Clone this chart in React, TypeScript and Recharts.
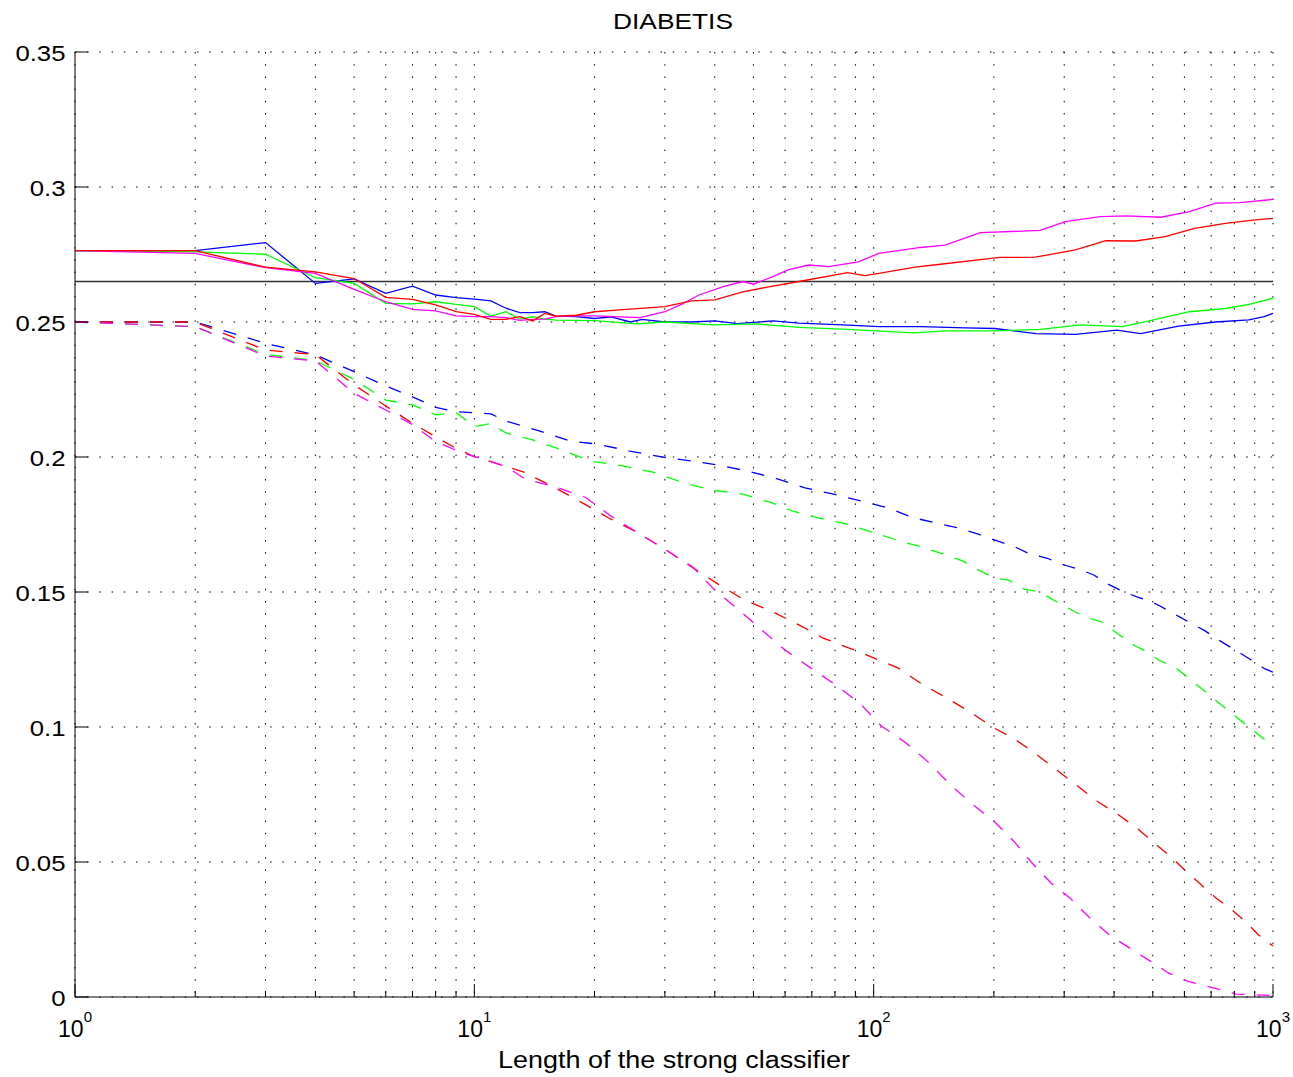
import React from 'react';
import { LineChart, Line, XAxis, YAxis, CartesianGrid, ReferenceLine } from 'recharts';

if (typeof document !== 'undefined') {
  document.body.style.margin = '0';
}

// ---- axes ----
const xTicks = [1, 2, 3, 4, 5, 6, 7, 8, 9, 10, 20, 30, 40, 50, 60, 70, 80, 90, 100, 200, 300, 400, 500, 600, 700, 800, 900, 1000];
const yTicks = [0, 0.05, 0.1, 0.15, 0.2, 0.25, 0.3, 0.35];
const xDomain = [1, 1000];
const yDomain = [0, 0.35];
const baselineLevel = 0.265;
const titleText = 'DIABETIS';
const xLabelText = 'Length of the strong classifier';

// ---- solid curves ----
const blueSolid: [number, number][] = [
  [1, 0.2764], [2, 0.2764], [3, 0.2794], [4, 0.2643], [5, 0.266], [6, 0.2606], [7, 0.2633], [8, 0.26], [9, 0.259], [10, 0.2585],
  [11, 0.2578], [12, 0.2551], [13, 0.2535], [14, 0.2535], [15, 0.2538], [16, 0.2522], [18, 0.252], [20, 0.2513], [22, 0.2519],
  [24.6, 0.25], [26.3, 0.251], [30, 0.25], [35, 0.25], [40, 0.2504], [45.6, 0.2494], [56, 0.2504], [65, 0.2496], [84, 0.2489],
  [103, 0.2483], [131, 0.2483], [170, 0.2478], [201, 0.2476], [255, 0.2457], [320, 0.2454], [406, 0.247], [466, 0.2457],
  [580, 0.2485], [718, 0.25], [870, 0.2508], [950, 0.252], [1000, 0.2532],
];
const greenSolid: [number, number][] = [
  [1, 0.2764], [2, 0.276], [3, 0.2751], [4, 0.2664], [5, 0.2643], [6, 0.2569], [7, 0.2567], [8, 0.2575], [9, 0.2565], [10, 0.2557],
  [11, 0.2522], [12, 0.2538], [13, 0.2511], [14, 0.252], [15, 0.2511], [16, 0.2507], [20, 0.2505], [25.5, 0.2493], [30, 0.25],
  [40, 0.2489], [51, 0.2493], [65, 0.248], [86, 0.2473], [126, 0.246], [151, 0.2467], [201, 0.2467], [261, 0.2473], [330, 0.2489],
  [419, 0.2483], [480, 0.2501], [617, 0.2538], [760, 0.255], [870, 0.2565], [1000, 0.2588],
];
const redSolid: [number, number][] = [
  [1, 0.2764], [2, 0.2764], [3, 0.2703], [4, 0.2686], [5, 0.2661], [6, 0.2591], [7, 0.2584], [8, 0.2563], [9, 0.2538], [10, 0.2528],
  [11, 0.251], [12, 0.251], [13, 0.252], [14, 0.2504], [15, 0.2532], [16, 0.2522], [18, 0.2525], [20, 0.2538], [24, 0.2547],
  [30, 0.2557], [35, 0.2578], [40, 0.2582], [47, 0.2612], [55, 0.2631], [65, 0.265], [86, 0.2683], [95, 0.2672], [103, 0.268],
  [127, 0.2703], [145, 0.2713], [207, 0.2739], [254, 0.274], [320, 0.2767], [381, 0.2801], [453, 0.28], [537, 0.2816],
  [636, 0.2847], [760, 0.2865], [903, 0.2878], [1000, 0.2884],
];
const magentaSolid: [number, number][] = [
  [1, 0.2764], [2, 0.2754], [3, 0.2701], [4, 0.268], [5, 0.2621], [6, 0.2575], [7, 0.2547], [8, 0.2541], [9, 0.2523], [10, 0.252],
  [11, 0.252], [12, 0.2516], [13, 0.2506], [14, 0.251], [15, 0.2511], [16, 0.252], [18, 0.2523], [20, 0.2523], [26, 0.2516],
  [30, 0.2538], [33, 0.2565], [36.5, 0.26], [42, 0.2631], [47, 0.265], [50, 0.264], [56, 0.2668], [61, 0.2693], [68.8, 0.2711],
  [77, 0.2705], [91.5, 0.2723], [103, 0.2754], [131, 0.2776], [151, 0.2785], [185, 0.2831], [261, 0.2839], [302, 0.2872],
  [369, 0.289], [428, 0.2893], [524, 0.2888], [617, 0.2909], [718, 0.294], [827, 0.2942], [1000, 0.2954],
];

// ---- dashed curves ----
const blueDashed: [number, number][] = [
  [1, 0.25], [2, 0.25], [3, 0.2421], [4, 0.2378], [5, 0.2316], [6, 0.2263], [7, 0.2223], [8, 0.2184], [9, 0.2168], [10, 0.2164],
  [11, 0.216], [12, 0.2133], [14.6, 0.2096], [17.4, 0.2059], [20.3, 0.2048], [24.5, 0.2022], [29.2, 0.2001], [35.2, 0.1985],
  [41.2, 0.1969], [49, 0.1946], [56.6, 0.1922], [67.3, 0.1886], [78.9, 0.1863], [93, 0.1837], [109, 0.1811], [125, 0.1776],
  [144.5, 0.1754], [162, 0.1738], [182, 0.1715], [204, 0.1689], [226, 0.1667], [246, 0.1641], [272, 0.1625], [300, 0.16],
  [329, 0.1583], [356, 0.1563], [385, 0.153], [424, 0.15], [458, 0.1481], [492, 0.1467], [521, 0.1448], [585, 0.1407],
  [676, 0.1356], [737, 0.1319], [827, 0.1274], [955, 0.1215], [1000, 0.1203],
];
const greenDashed: [number, number][] = [
  [1, 0.25], [2, 0.2483], [3, 0.238], [4, 0.2357], [5, 0.2287], [6, 0.2211], [7, 0.2193], [8, 0.2156], [9, 0.2165], [10, 0.2112],
  [11, 0.2124], [12, 0.2089], [14, 0.2063], [16.6, 0.2026], [19.5, 0.1985], [23.5, 0.1967], [28, 0.1944], [33, 0.1907],
  [39, 0.1878], [46.7, 0.1863], [55, 0.1833], [62.5, 0.18], [73, 0.1774], [85.5, 0.1752], [99, 0.1722], [116, 0.1689],
  [132, 0.1667], [152, 0.1637], [167, 0.1615], [183, 0.1581], [201, 0.1552], [218, 0.1544], [238, 0.1511], [260, 0.15],
  [288, 0.1463], [320, 0.1426], [344, 0.1404], [372, 0.1389], [406, 0.1348], [452, 0.13], [485, 0.1278], [517, 0.1248],
  [576, 0.1215], [630, 0.1168], [691, 0.112], [775, 0.1059], [870, 0.1], [960, 0.095], [1000, 0.0937],
];
const redDashed: [number, number][] = [
  [1, 0.25], [2, 0.25], [3, 0.2396], [4, 0.2379], [5, 0.2267], [6, 0.2189], [7, 0.2125], [8, 0.2075], [9, 0.2032], [10, 0.2001],
  [11, 0.1983], [13.3, 0.1944], [15.8, 0.1889], [18.5, 0.1833], [21.7, 0.1774], [25.5, 0.1722], [30.2, 0.1656], [35, 0.1593],
  [40.4, 0.1533], [47.5, 0.147], [56, 0.1426], [65, 0.1378], [74.5, 0.133], [92, 0.1278], [115, 0.1219], [132, 0.1159],
  [151, 0.1111], [176, 0.1052], [198, 0.1], [225, 0.0956], [253, 0.0904], [283, 0.0848], [322, 0.0785], [365, 0.0722],
  [407, 0.0678], [456, 0.0626], [505, 0.057], [555, 0.0519], [608, 0.0463], [662, 0.0415], [720, 0.0367], [790, 0.0322],
  [855, 0.0278], [920, 0.023], [1000, 0.0189],
];
const magentaDashed: [number, number][] = [
  [1, 0.25], [2, 0.2483], [3, 0.2374], [4, 0.2356], [5, 0.2236], [6, 0.2174], [7, 0.212], [8, 0.2057], [9, 0.2025], [10, 0.2001],
  [11, 0.1983], [12, 0.1965], [13.4, 0.1919], [16, 0.1889], [19, 0.185], [22, 0.1781], [25.5, 0.1722], [30.2, 0.1656],
  [35.2, 0.1593], [40, 0.1507], [46, 0.1433], [52.5, 0.1359], [60, 0.1285], [69.5, 0.1219], [80.5, 0.1155], [92.7, 0.1085],
  [104.5, 0.1004], [120.5, 0.0941], [137, 0.087], [154, 0.0793], [174, 0.0722], [200, 0.0652], [224, 0.0578], [248, 0.05],
  [278, 0.0422], [310, 0.0367], [346, 0.0296], [392, 0.0226], [438, 0.0181], [493, 0.0133], [547, 0.0089], [610, 0.0059],
  [711, 0.0033], [810, 0.0011], [940, 0.0007], [1000, 0.0005],
];

const FONT = '"Liberation Sans", Arial, Helvetica, sans-serif';
const toData = (pts: [number, number][]) => pts.map(([n, v]) => ({ n, v }));

const isMajor = (v: number) => Math.abs(Math.log10(v) - Math.round(Math.log10(v))) < 1e-6;

const XTick = (props: any) => {
  const { x, y, payload } = props;
  const v = payload.value as number;
  const major = isMajor(v);
  const exp = Math.round(Math.log10(v));
  return (
    <g>
      <line x1={x} x2={x} y1={y} y2={y - (major ? 13 : 6)} stroke="#000" strokeWidth={1} />
      {major && (
        <text x={x} y={y + 40} textAnchor="middle" fontSize={23} fontFamily={FONT} fill="#000">
          10
          <tspan dy={-15} fontSize={15}>{exp}</tspan>
        </text>
      )}
    </g>
  );
};

const YTick = (props: any) => {
  const { x, y, payload } = props;
  const v = payload.value as number;
  return (
    <g>
      <line x1={x} x2={x + 13} y1={y} y2={y} stroke="#000" strokeWidth={1} />
      <text
        transform={`translate(${x - 9.5} ${y + 9}) scale(1.12 1)`}
        textAnchor="end"
        fontSize={23}
        fontFamily={FONT}
        fill="#000"
      >
        {String(v)}
      </text>
    </g>
  );
};

const W = 1293;
const H = 1077;

export default function App() {
  const solid = [
    { d: blueSolid, c: '#0000ff' },
    { d: greenSolid, c: '#00ff00' },
    { d: magentaSolid, c: '#ff00ff' },
    { d: redSolid, c: '#ff0000' },
  ];
  const dashed = [
    { d: blueDashed, c: '#0000ff' },
    { d: greenDashed, c: '#00ff00' },
    { d: redDashed, c: '#ff0000' },
    { d: magentaDashed, c: '#ff00ff' },
  ];
  return (
    <div style={{ position: 'relative', width: W, height: H, background: '#fff', overflow: 'hidden' }}>
      <LineChart width={W} height={H} margin={{ top: 52, right: 20, bottom: 0, left: 0 }} style={{ overflow: 'visible' }}>
        <CartesianGrid stroke="#000" strokeDasharray="1.5 10.7" strokeWidth={1} />
        <XAxis
          type="number"
          dataKey="n"
          scale="log"
          domain={xDomain}
          ticks={xTicks}
          interval={0}
          allowDataOverflow
          height={80}
          tickSize={0}
          tickMargin={0}
          tickLine={false}
          axisLine={{ stroke: '#000', strokeWidth: 1 }}
          tick={<XTick />}
        />
        <YAxis
          type="number"
          domain={yDomain}
          ticks={yTicks}
          interval={0}
          allowDataOverflow
          width={75}
          tickSize={0}
          tickMargin={0}
          tickLine={false}
          axisLine={{ stroke: '#000', strokeWidth: 1 }}
          tick={<YTick />}
        />
        <ReferenceLine y={baselineLevel} stroke="#333" strokeWidth={1.5} />
        {dashed.map((s, i) => (
          <Line
            key={'d' + i}
            data={toData(s.d)}
            dataKey="v"
            type="linear"
            stroke={s.c}
            strokeWidth={1.3}
            strokeDasharray="13 12"
            dot={false}
            activeDot={false}
            isAnimationActive={false}
          />
        ))}
        {solid.map((s, i) => (
          <Line
            key={'s' + i}
            data={toData(s.d)}
            dataKey="v"
            type="linear"
            stroke={s.c}
            strokeWidth={1.3}
            dot={false}
            activeDot={false}
            isAnimationActive={false}
          />
        ))}
      </LineChart>
      <svg
        width={W}
        height={H}
        style={{ position: 'absolute', left: 0, top: 0, pointerEvents: 'none' }}
      >
        <text x={673} y={28.5} textAnchor="middle" fontSize={22} fontFamily={FONT} textLength={120} lengthAdjust="spacingAndGlyphs" fill="#000">
          {titleText}
        </text>
        <text x={674} y={1068} textAnchor="middle" fontSize={23} fontFamily={FONT} textLength={352} lengthAdjust="spacingAndGlyphs" fill="#000">
          {xLabelText}
        </text>
      </svg>
    </div>
  );
}
